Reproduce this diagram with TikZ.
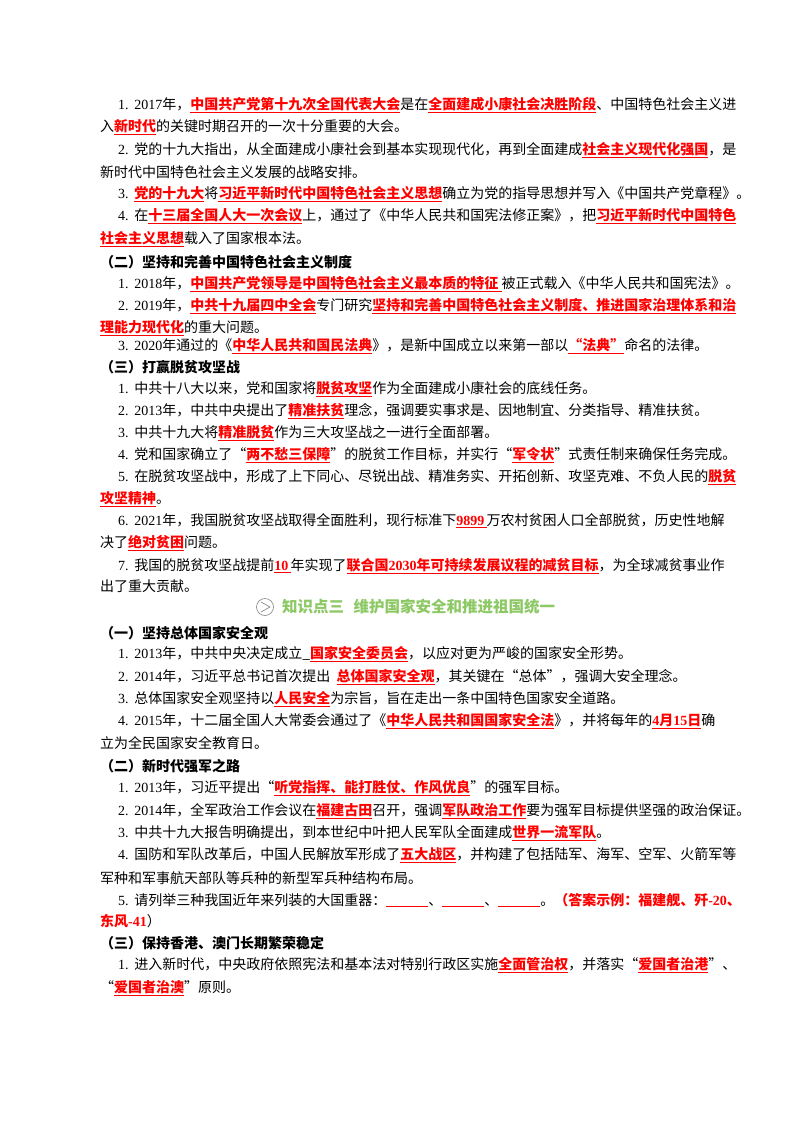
\documentclass[tikz,border=0pt]{standalone}
\usepackage{fontspec}
\setmainfont{Noto Sans CJK SC}
\newfontfamily\lat{Liberation Serif}
\definecolor{ttl}{RGB}{140,200,100}
\newcommand{\R}[1]{{\color{red}\bfseries\underline{#1}}}
\newcommand{\N}[1]{{\lat #1}}
\newcommand{\D}[1]{{\lat #1.\hspace{0.4em}}}
\tikzset{ln/.style={anchor=west,inner sep=0pt,font=\fontsize{14}{16}\selectfont},
 hd/.style={ln,font=\fontsize{14}{16}\selectfont\bfseries}}
\begin{document}
\begin{tikzpicture}[x=1pt,y=1pt]
\useasboundingbox[fill=white] (0,0) rectangle (800,-1132);
\node[ln] (l1) at (118,-105) {\D{1}\N{2017}年，\R{中国共产党第十九次全国代表大会}是在\R{全面建成小康社会决胜阶段}、中国特色社会主义进};
\node[ln] (l2) at (100,-127) {入\R{新时代}的关键时期召开的一次十分重要的大会。};
\node[ln] (l3) at (118,-150) {\D{2}党的十九大指出，从全面建成小康社会到基本实现现代化，再到全面建成\R{社会主义现代化强国}，是};
\node[ln] (l4) at (100,-172) {新时代中国特色社会主义发展的战略安排。};
\node[ln] (l5) at (118,-194) {\D{3}\R{党的十九大}将\R{习近平新时代中国特色社会主义思想}确立为党的指导思想并写入《中国共产党章程》。};
\node[ln] (l6) at (118,-216) {\D{4}在\R{十三届全国人大一次会议}上，通过了《中华人民共和国宪法修正案》，把\R{习近平新时代中国特色}};
\node[ln] (l7) at (100,-239) {\R{社会主义思想}载入了国家根本法。};
\node[hd] (h1) at (100,-262) {（二）坚持和完善中国特色社会主义制度};
\node[ln] (l8) at (118,-284) {\D{1}\N{2018}年，\R{中国共产党领导是中国特色社会主义最本质的特征\ }被正式载入《中华人民共和国宪法》。};
\node[ln] (l9) at (118,-306) {\D{2}\N{2019}年，\R{中共十九届四中全会}专门研究\R{坚持和完善中国特色社会主义制度、推进国家治理体系和治}};
\node[ln] (l10) at (100,-328) {\R{理能力现代化}的重大问题。};
\node[ln] (l11) at (118,-346) {\D{3}\N{2020}年通过的《\R{中华人民共和国民法典}》，是新中国成立以来第一部以\R{“法典”}命名的法律。};
\node[hd] (h2) at (100,-367) {（三）打赢脱贫攻坚战};
\node[ln] (l12) at (118,-389) {\D{1}中共十八大以来，党和国家将\R{脱贫攻坚}作为全面建成小康社会的底线任务。};
\node[ln] (l13) at (118,-411) {\D{2}\N{2013}年，中共中央提出了\R{精准扶贫}理念，强调要实事求是、因地制宜、分类指导、精准扶贫。};
\node[ln] (l14) at (118,-433) {\D{3}中共十九大将\R{精准脱贫}作为三大攻坚战之一进行全面部署。};
\node[ln] (l15) at (118,-455) {\D{4}党和国家确立了“\R{两不愁三保障}”的脱贫工作目标，并实行“\R{军令状}”式责任制来确保任务完成。};
\node[ln] (l16) at (118,-477) {\D{5}在脱贫攻坚战中，形成了上下同心、尽锐出战、精准务实、开拓创新、攻坚克难、不负人民的\R{脱贫}};
\node[ln] (l17) at (100,-499) {\R{攻坚精神}。};
\node[ln] (l18) at (118,-521) {\D{6}\N{2021}年，我国脱贫攻坚战取得全面胜利，现行标准下\R{\N{9899}\,}万农村贫困人口全部脱贫，历史性地解};
\node[ln] (l19) at (100,-543) {决了\R{绝对贫困}问题。};
\node[ln] (l20) at (118,-566) {\D{7}我国的脱贫攻坚战提前\R{\N{10}\,}年实现了\R{联合国\N{2030}年可持续发展议程的减贫目标}，为全球减贫事业作};
\node[ln] (l21) at (100,-586) {出了重大贡献。};
\draw[gray,line width=0.6pt] (265,-607) circle (8.5);
\draw[gray,line width=0.6pt] (261,-602) -- (270,-607) -- (261,-612);
\node[hd,text=ttl,font=\fontsize{15.5}{17}\selectfont\bfseries] (t) at (282,-607) {知识点三\hspace{0.6em}维护国家安全和推进祖国统一};
\node[hd] (h3) at (100,-633) {（一）坚持总体国家安全观};
\node[ln] (m1) at (118,-654) {\D{1}\N{2013}年，中共中央决定成立\_\R{国家安全委员会}，以应对更为严峻的国家安全形势。};
\node[ln] (m2) at (118,-677) {\D{2}\N{2014}年，习近平总书记首次提出\ \ \R{总体国家安全观}，其关键在“总体”，强调大安全理念。};
\node[ln] (m3) at (118,-699) {\D{3}总体国家安全观坚持以\R{人民安全}为宗旨，旨在走出一条中国特色国家安全道路。};
\node[ln] (m4) at (118,-721) {\D{4}\N{2015}年，十二届全国人大常委会通过了《\R{中华人民共和国国家安全法}》，并将每年的\R{\N{4}月\N{15}日}确};
\node[ln] (m5) at (100,-743) {立为全民国家安全教育日。};
\node[hd] (h4) at (100,-766) {（二）新时代强军之路};
\node[ln] (m6) at (118,-788) {\D{1}\N{2013}年，习近平提出“\R{听党指挥、能打胜仗、作风优良}”的强军目标。};
\node[ln] (m7) at (118,-811) {\D{2}\N{2014}年，全军政治工作会议在\R{福建古田}召开，强调\R{军队政治工作}要为强军目标提供坚强的政治保证。};
\node[ln] (m8) at (118,-833) {\D{3}中共十九大报告明确提出，到本世纪中叶把人民军队全面建成\R{世界一流军队}。};
\node[ln] (m9) at (118,-855) {\D{4}国防和军队改革后，中国人民解放军形成了\R{五大战区}，并构建了包括陆军、海军、空军、火箭军等};
\node[ln] (m10) at (100,-878) {军种和军事航天部队等兵种的新型军兵种结构布局。};
\node[ln] (m11) at (118,-900) {\D{5}请列举三种我国近年来列装的大国重器：\R{\hspace{3em}}、\R{\hspace{3em}}、\R{\hspace{3em}}。{\color{red}\bfseries（答案示例：福建舰、歼\N{-20}、}};
\node[ln] (m12) at (100,-921) {{\color{red}\bfseries 东风\N{-41}}）};
\node[hd] (h5) at (100,-943) {（三）保持香港、澳门长期繁荣稳定};
\node[ln] (m13) at (118,-965) {\D{1}进入新时代，中央政府依照宪法和基本法对特别行政区实施\R{全面管治权}，并落实“\R{爱国者治港}”、};
\node[ln] (m14) at (100,-988) {“\R{爱国者治澳}”原则。};
\end{tikzpicture}
\end{document}
